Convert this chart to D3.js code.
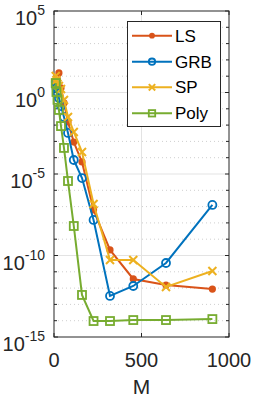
<!DOCTYPE html>
<html>
<head>
<meta charset="utf-8">
<script src="https://cdn.jsdelivr.net/npm/d3@7"></script>
<style>
  html, body { margin: 0; padding: 0; background: #fff; }
  svg { display: block; font-family: "Liberation Sans", Arial, sans-serif; }
</style>
</head>
<body>
<svg id="chart" width="253" height="398"></svg>
<script>
// data (values are log10 of the error)
const M_ALL = [10, 14, 20, 28, 40, 57, 80, 113, 160, 226, 320, 453, 640, 905];
const M_LS = [28, 40, 57, 80, 113, 160, 226, 320, 453, 640, 905];

const lsLog   = [1.20, 0.28, -0.64, -1.81, -3.04, -4.26, -7.21, -9.66, -11.44, -11.81, -12.06];
const grbLog  = [0.64, 0.28, -0.03, -0.34, -0.83, -1.50, -2.48, -4.14, -5.25, -7.82, -12.48, -11.87, -10.46, -6.90];
const spLog   = [1.01, 0.77, 0.52, 0.40, 0.21, -0.46, -1.50, -2.42, -3.65, -6.84, -10.28, -10.28, -11.93, -10.95];
const polyLog = [0.58, 0.03, -0.45, -1.07, -2.06, -3.40, -5.43, -8.19, -12.42, -14.02, -14.02, -13.96, -13.96, -13.90];

const seriesNames = ['LS', 'GRB', 'SP', 'Poly'];
const xTicks = [0, 500, 1000];
const yMajor = [5, 0, -5, -10, -15];

const COLORS = { LS: '#D95319', GRB: '#0072BD', SP: '#EDB120', Poly: '#77AC30' };

const series = [
  { name: 'LS', xs: M_LS, ys: lsLog, marker: 'dot' },
  { name: 'GRB', xs: M_ALL, ys: grbLog, marker: 'circle' },
  { name: 'SP', xs: M_ALL, ys: spLog, marker: 'cross' },
  { name: 'Poly', xs: M_ALL, ys: polyLog, marker: 'square' }
];

const svg = d3.select('#chart');
const pLeft = 54, pRight = 229, pTop = 11, pBottom = 337;

const x = d3.scaleLinear().domain([0, 1000]).range([pLeft, pRight]);
const y = d3.scaleLog().domain([1e-15, 1e5]).range([pBottom, pTop]);

// grid
const g = svg.append('g');
d3.range(-14, 5).forEach(e => {
  const yy = y(Math.pow(10, e));
  const major = yMajor.includes(e);
  g.append('line')
    .attr('x1', pLeft).attr('x2', pRight).attr('y1', yy).attr('y2', yy)
    .attr('stroke', major ? '#e3e3e3' : '#cfcfcf')
    .attr('stroke-width', 1)
    .attr('stroke-dasharray', major ? null : '1,3');
});
g.append('line')
  .attr('x1', x(500)).attr('x2', x(500)).attr('y1', pTop).attr('y2', pBottom)
  .attr('stroke', '#e3e3e3');

// ticks on both sides
d3.range(-15, 6).forEach(e => {
  const yy = y(Math.pow(10, e));
  const len = yMajor.includes(e) ? 4 : 3;
  g.append('line').attr('x1', pLeft).attr('x2', pLeft + len).attr('y1', yy).attr('y2', yy).attr('stroke', '#262626');
  g.append('line').attr('x1', pRight).attr('x2', pRight - len).attr('y1', yy).attr('y2', yy).attr('stroke', '#262626');
});
xTicks.forEach(t => {
  g.append('line').attr('x1', x(t)).attr('x2', x(t)).attr('y1', pBottom).attr('y2', pBottom - 4).attr('stroke', '#262626');
  g.append('line').attr('x1', x(t)).attr('x2', x(t)).attr('y1', pTop).attr('y2', pTop + 4).attr('stroke', '#262626');
});

// box
svg.append('rect')
  .attr('x', pLeft).attr('y', pTop).attr('width', pRight - pLeft).attr('height', pBottom - pTop)
  .attr('fill', 'none').attr('stroke', '#262626').attr('stroke-width', 1);

// y labels
yMajor.forEach(e => {
  const yy = y(Math.pow(10, e));
  const t = svg.append('text')
    .attr('x', 45).attr('y', yy + 14)
    .attr('text-anchor', 'end')
    .attr('fill', '#262626')
    .attr('font-size', 20);
  t.append('tspan').text('10');
  t.append('tspan').attr('dy', -10).attr('font-size', 14).text(e);
});

// x labels
xTicks.forEach(tk => {
  svg.append('text')
    .attr('x', x(tk)).attr('y', 367)
    .attr('text-anchor', 'middle')
    .attr('fill', '#262626')
    .attr('font-size', 20)
    .text(tk);
});
svg.append('text')
  .attr('x', x(500)).attr('y', 394)
  .attr('text-anchor', 'middle')
  .attr('fill', '#262626')
  .attr('font-size', 21)
  .text('M');

function drawMarker(sel, type, color, cx, cy, s = 4) {
  if (type === 'dot') {
    sel.append('circle').attr('cx', cx).attr('cy', cy).attr('r', s * 0.9).attr('fill', color);
  } else if (type === 'circle') {
    sel.append('circle').attr('cx', cx).attr('cy', cy).attr('r', s)
      .attr('fill', 'none').attr('stroke', color).attr('stroke-width', 1.8);
  } else if (type === 'cross') {
    sel.append('path')
      .attr('d', `M${cx - s},${cy - s}L${cx + s},${cy + s}M${cx - s},${cy + s}L${cx + s},${cy - s}`)
      .attr('stroke', color).attr('stroke-width', 2).attr('fill', 'none');
  } else {
    sel.append('rect').attr('x', cx - s).attr('y', cy - s).attr('width', 2 * s).attr('height', 2 * s)
      .attr('fill', 'none').attr('stroke', color).attr('stroke-width', 1.8);
  }
}

const line = d3.line().x(d => x(d[0])).y(d => y(Math.pow(10, d[1])));
series.forEach(s => {
  const pts = s.xs.map((m, i) => [m, s.ys[i]]);
  const color = COLORS[s.name];
  const gs = svg.append('g');
  gs.append('path').attr('d', line(pts)).attr('fill', 'none')
    .attr('stroke', color).attr('stroke-width', 2);
  pts.forEach(p => drawMarker(gs, s.marker, color, x(p[0]), y(Math.pow(10, p[1]))));
});

// legend
const lg = svg.append('g');
lg.append('rect').attr('x', 127.5).attr('y', 21.5).attr('width', 93).attr('height', 105)
  .attr('fill', '#fff').attr('stroke', '#262626').attr('stroke-width', 1);
const rowY = [35.7, 61.7, 87.3, 113.3];
series.forEach((s, i) => {
  const color = COLORS[s.name];
  lg.append('line').attr('x1', 132).attr('x2', 172).attr('y1', rowY[i]).attr('y2', rowY[i])
    .attr('stroke', color).attr('stroke-width', 2);
  drawMarker(lg, s.marker, color, 152, rowY[i], 3.2);
  lg.append('text').attr('x', 175).attr('y', rowY[i] + 6)
    .attr('font-size', 17).attr('fill', '#000').text(seriesNames[i]);
});
</script>
</body>
</html>
